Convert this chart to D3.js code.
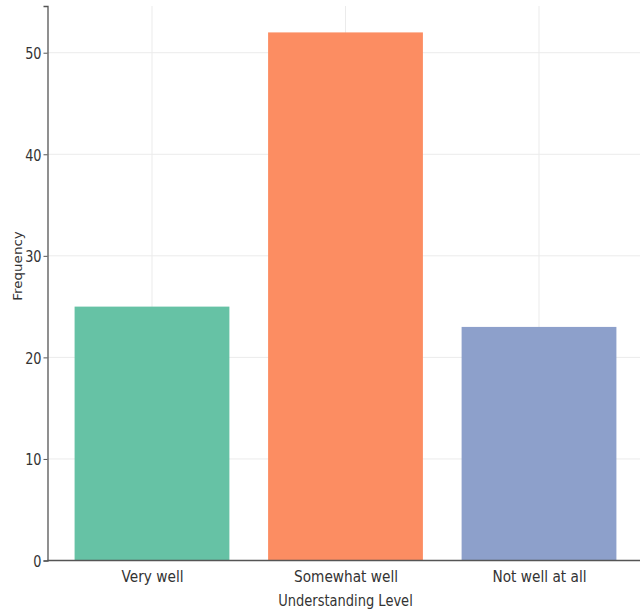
<!DOCTYPE html>
<html>
<head>
<meta charset="utf-8">
<script src="https://cdn.jsdelivr.net/npm/d3@7"></script>
<style>
  body { margin: 0; background: #fff; }
  svg { display: block; }
  text { font-family: "DejaVu Sans", sans-serif; fill: #333; }
</style>
</head>
<body>
<div id="chart"></div>
<script>
const categories = ["Very well", "Somewhat well", "Not well at all"];
const frequencies = [25, 52, 23];
const barColors = ["#66c2a5", "#fc8d62", "#8da0cb"];
const yTicks = [0, 10, 20, 30, 40, 50];

function barChart() {
  let margin = { top: 6, left: 47.5, right: -3.5, bottom: 53.5 },
    totalW = 640,
    totalH = 614,
    width = totalW - margin.left - margin.right,
    height = totalH - margin.top - margin.bottom;

  function chart(selector) {
    let svg = d3.select(selector)
      .append("svg")
      .attr("width", totalW)
      .attr("height", totalH);

    let g = svg.append("g")
      .attr("transform", "translate(" + margin.left + "," + margin.top + ")");

    // matplotlib-like limits: bar width 0.8, 5% margins
    let xLin = d3.scaleLinear()
      .domain([-0.54, categories.length - 1 + 0.54])
      .range([0, width]);

    let yScale = d3.scaleLinear()
      .domain([0, d3.max(frequencies) * 1.05])
      .range([height, 0]);

    // grid
    g.append("g").selectAll("line")
      .data(yTicks)
      .enter().append("line")
      .attr("x1", 0).attr("x2", width)
      .attr("y1", d => yScale(d)).attr("y2", d => yScale(d))
      .attr("stroke", "#ebebeb").attr("stroke-width", 1);

    g.append("g").selectAll("line")
      .data(categories)
      .enter().append("line")
      .attr("x1", (d, i) => xLin(i)).attr("x2", (d, i) => xLin(i))
      .attr("y1", 0).attr("y2", height)
      .attr("stroke", "#ebebeb").attr("stroke-width", 1);

    // bars
    g.append("g").selectAll("rect")
      .data(frequencies)
      .enter().append("rect")
      .attr("x", (d, i) => xLin(i - 0.4))
      .attr("width", xLin(0.8) - xLin(0))
      .attr("y", d => yScale(d))
      .attr("height", d => height - yScale(d))
      .attr("fill", (d, i) => barColors[i]);

    // y axis
    let yAxis = g.append("g")
      .call(d3.axisLeft(yScale).tickValues(yTicks).tickSize(4));
    yAxis.select(".domain").attr("stroke", "#555").attr("stroke-width", 1.3);
    yAxis.selectAll(".tick line").attr("stroke", "#555");
    // narrow, tall glyphs like the reference
    yAxis.selectAll(".tick text")
      .attr("x", null).attr("dy", "0.36em")
      .attr("font-size", 16.5)
      .attr("font-family", "DejaVu Sans, sans-serif")
      .attr("fill", "#333")
      .attr("transform", "translate(-6,0) scale(0.78,1)");

    // x axis
    let xPos = d3.scaleOrdinal()
      .domain(categories)
      .range(categories.map((d, i) => xLin(i)));
    let xAxis = g.append("g")
      .attr("transform", "translate(0," + height + ")")
      .call(d3.axisBottom(xPos).tickSize(0));
    xAxis.select(".domain").attr("stroke", "#555").attr("stroke-width", 1.3)
      .attr("d", "M0,0H" + width);
    xAxis.selectAll(".tick text")
      .attr("y", 0).attr("dy", null)
      .attr("font-size", 16.5)
      .attr("font-family", "DejaVu Sans, sans-serif")
      .attr("fill", "#333")
      .attr("transform", "translate(0,21) scale(0.83,1)");

    svg.append("text")
      .attr("transform", "translate(" + (margin.left + xLin(1)) + ",606) scale(0.79,1)")
      .attr("text-anchor", "middle")
      .attr("font-size", 16.5)
      .text("Understanding Level");

    svg.append("text")
      .attr("transform", "translate(22,266) scale(0.9,1) rotate(-90)")
      .attr("text-anchor", "middle")
      .attr("font-size", 13.5)
      .text("Frequency");

    return chart;
  }

  return chart;
}

barChart()("#chart");
</script>
</body>
</html>
